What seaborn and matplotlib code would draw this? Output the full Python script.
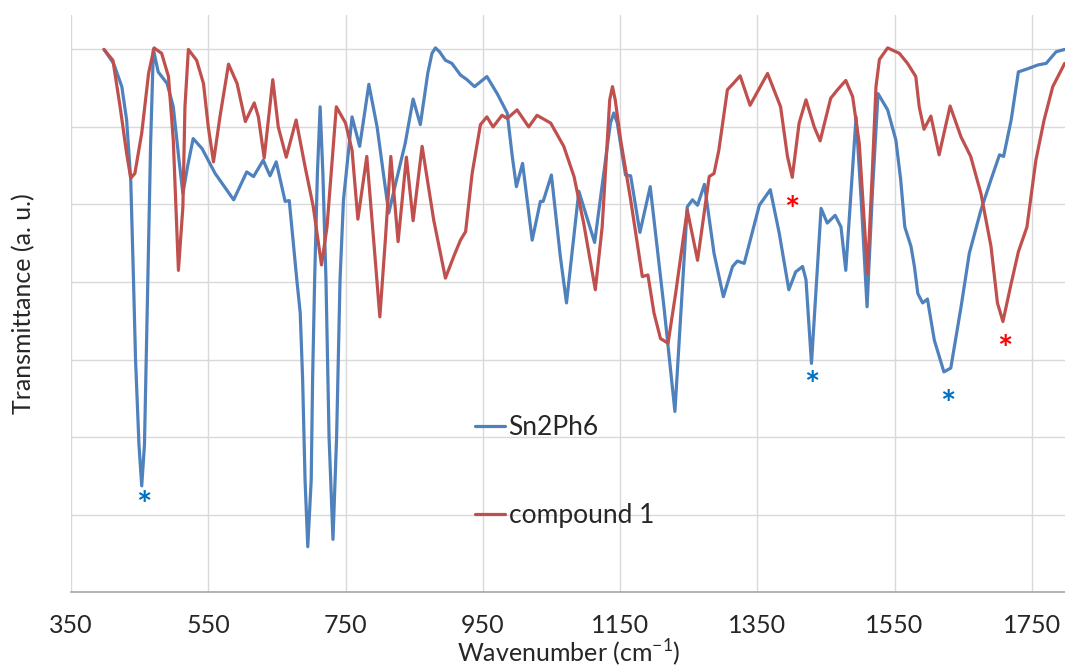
import numpy as np
import pandas as pd
import seaborn as sns
import matplotlib.pyplot as plt

# IR spectra, transmittance in arbitrary units (one unit = one grid step)
sn2ph6_wn = [398, 412, 424, 431, 437, 441, 444, 449, 453, 457, 459.5, 462, 466, 470, 477, 490, 499,
             507, 513, 520, 528, 541, 560, 587, 606, 616, 630, 640, 649, 662, 668, 679, 684, 687.5,
             691, 695, 700, 702, 705, 709, 713, 717, 721.5, 726, 731.7, 737, 742, 747, 759.5, 770.6,
             784, 796, 813, 823, 837, 848.5, 859, 870, 876, 881, 887, 895.6, 905, 917.5, 927, 938, 956, 971,
             985.6, 993, 999, 1008, 1022, 1034, 1038, 1050, 1063, 1072, 1090, 1113, 1136, 1141, 1146, 1158,
             1165.5, 1179, 1194, 1214, 1230, 1248, 1255.6, 1263, 1273, 1287, 1300.6, 1314, 1321,
             1331, 1353, 1369, 1382, 1396, 1406, 1416, 1421, 1429, 1443, 1452, 1463.5, 1472, 1479,
             1494, 1502, 1510, 1518, 1526, 1540, 1552, 1559, 1565, 1574, 1579, 1584, 1591, 1598,
             1608, 1622, 1632, 1647, 1659, 1676, 1690.6, 1703, 1709, 1720, 1730.5, 1744, 1759, 1771,
             1785.5, 1798]
sn2ph6_t = [7.0, 6.82, 6.52, 6.09, 5.32, 4.03, 3.0, 1.9, 1.37, 1.9, 3.0, 4.03, 5.8, 7.0, 6.71, 6.56, 6.26,
            5.6, 5.14, 5.5, 5.85, 5.72, 5.40, 5.06, 5.42, 5.36, 5.57, 5.37, 5.55, 5.04, 5.05, 4.03, 3.6, 2.74,
            1.45, 0.585, 1.45, 2.74, 4.03, 5.4, 6.26, 5.4, 4.03, 2.0, 0.68, 2.0, 4.03, 5.06, 6.13, 5.75,
            6.55, 6.0, 4.89, 5.27, 5.79, 6.36, 6.03, 6.7, 6.95, 7.02, 6.97, 6.86, 6.82, 6.67, 6.61, 6.52, 6.65, 6.43,
            6.18, 5.62, 5.23, 5.53, 4.54, 5.04, 5.04, 5.38, 4.33, 3.73, 5.17, 4.51, 6.05, 6.18, 6.05, 5.38,
            5.37, 4.64, 5.23, 3.68, 2.33, 4.97, 5.06, 4.99, 5.26, 4.37, 3.81, 4.20, 4.27,
            4.24, 4.99, 5.19, 4.63, 3.90, 4.13, 4.20, 4.03, 2.95, 4.95, 4.76, 4.86, 4.71, 4.15,
            6.13, 4.97, 3.68, 5.19, 6.43, 6.22, 5.83, 5.32, 4.71, 4.46, 4.20, 3.85, 3.73, 3.78,
            3.25, 2.84, 2.89, 3.68, 4.37, 4.93, 5.32, 5.64, 5.62, 6.09, 6.71, 6.75, 6.80, 6.82,
            6.97, 7.0]

compound1_wn = [398, 411, 421.5, 431, 437, 443, 453, 463, 471, 482, 492, 499, 506.5, 513, 516, 521, 533,
                543, 550, 557.6, 567, 579.5, 592, 604, 617, 623, 631.5, 644, 652, 663.6, 678, 691, 703,
                715, 723, 736.6, 750, 759.5, 768, 781, 791, 800, 808, 816, 826.6, 838.7, 848.5, 861.6,
                878.5, 895.6, 907.7, 917.5, 925, 934.5, 946.6, 956, 965, 978, 985.6, 1000, 1017, 1029,
                1049, 1068, 1083, 1097, 1114, 1124, 1135, 1139, 1143, 1151, 1165.5, 1182.5, 1190.7, 1199.5, 1209,
                1220, 1231, 1248, 1263, 1280, 1287, 1294, 1306.5, 1315, 1325, 1339.5, 1365, 1384, 1394,
                1401, 1411, 1421, 1433, 1441.6, 1457, 1467, 1479, 1489, 1498.6, 1506, 1510.7, 1518,
                1523, 1528, 1540, 1557, 1569, 1581, 1586, 1593, 1603, 1615, 1631, 1647, 1661, 1676,
                1690.6, 1700, 1708, 1720, 1730.5, 1743, 1756, 1768, 1780.6, 1798]
compound1_t = [7.0, 6.86, 6.26, 5.66, 5.34, 5.40, 5.92, 6.69, 7.02, 6.95, 6.65, 5.83, 4.15, 4.97, 6.26, 7.0, 6.86,
               6.56, 6.0, 5.55, 6.13, 6.81, 6.56, 6.07, 6.31, 6.13, 5.60, 6.61, 6.0, 5.61, 6.09, 5.49, 4.97,
               4.22, 4.71, 6.26, 6.05, 5.70, 4.81, 5.62, 4.54, 3.55, 4.54, 5.62, 4.52, 5.61, 4.79, 5.75,
               4.80, 4.05, 4.33, 4.54, 4.65, 5.40, 6.03, 6.13, 6.0, 6.15, 6.11, 6.22, 6.0, 6.15,
               6.05, 5.75, 5.36, 4.76, 3.90, 4.71, 6.35, 6.52, 6.35, 5.83, 5.06, 4.07, 4.09, 3.60, 3.27,
               3.21, 3.85, 4.93, 4.28, 5.36, 5.40, 5.70, 6.48, 6.56, 6.66, 6.28, 6.69, 6.26, 5.62,
               5.35, 6.05, 6.35, 6.0, 5.82, 6.37, 6.48, 6.60, 6.39, 5.79, 4.76, 4.11, 5.49,
               6.52, 6.87, 7.02, 6.95, 6.82, 6.65, 6.26, 5.97, 6.14, 5.64, 6.27, 5.87, 5.62, 5.14,
               4.46, 3.73, 3.49, 3.98, 4.39, 4.71, 5.57, 6.09, 6.52, 6.82]

# asterisk markers for assigned bands
star_wn = [455.5, 1429.6, 1628, 1401, 1711]
star_t = [1.17, 2.71, 2.47, 4.97, 3.17]
star_color = ['#0070C0', '#0070C0', '#0070C0', '#FF0000', '#FF0000']

xticks = [350, 550, 750, 950, 1150, 1350, 1550, 1750]

df = pd.concat([
    pd.DataFrame({'wn': sn2ph6_wn, 't': sn2ph6_t, 'sample': 'Sn2Ph6'}),
    pd.DataFrame({'wn': compound1_wn, 't': compound1_t, 'sample': 'compound 1'}),
])

sns.set_style('white')
plt.rcParams['font.family'] = ['Lato', 'DejaVu Sans']
plt.rcParams['mathtext.fontset'] = 'custom'
plt.rcParams['mathtext.rm'] = 'Lato'

fig = plt.figure(figsize=(10.65, 6.66), dpi=100)
ax = fig.add_axes([0.0667, 0.111, 0.9343, 0.866])

sns.lineplot(data=df, x='wn', y='t', hue='sample', estimator=None, sort=False,
             palette={'Sn2Ph6': '#4F81BD', 'compound 1': '#C0504D'}, linewidth=2.3, ax=ax)

for wn, t, c in zip(star_wn, star_t, star_color):
    ax.text(wn, t - 0.06, '*', color=c, fontsize=26, ha='center', va='center', fontweight='bold')

ax.set_xlim(350, 1800)
ax.set_ylim(0, 7.44)
ax.set_xticks(xticks)
ax.set_yticks(np.arange(1, 8))
ax.set_yticklabels([])
ax.grid(True, color='#D9D9D9', linewidth=1)
ax.set_axisbelow(True)
for s in ['top', 'right', 'left']:
    ax.spines[s].set_visible(False)
ax.spines['bottom'].set_color('#A6A6A6')
ax.spines['bottom'].set_linewidth(1.2)
ax.tick_params(axis='x', direction='inout', length=12, width=1.2, color='#A6A6A6',
               labelsize=18, pad=10)
ax.tick_params(axis='y', length=0)

ax.set_xlabel('Wavenumber (cm$^{-1}$)', fontsize=18, labelpad=0)
ax.set_ylabel('Transmittance (a. u.)', fontsize=18, labelpad=22)

ax.legend(title=None, frameon=False, fontsize=19, loc='upper left',
          bbox_to_anchor=(0.406, 0.307), handlelength=1.15, handletextpad=0.12,
          labelspacing=2.4, borderpad=0, borderaxespad=0)

fig.savefig('out.png', dpi=100)
